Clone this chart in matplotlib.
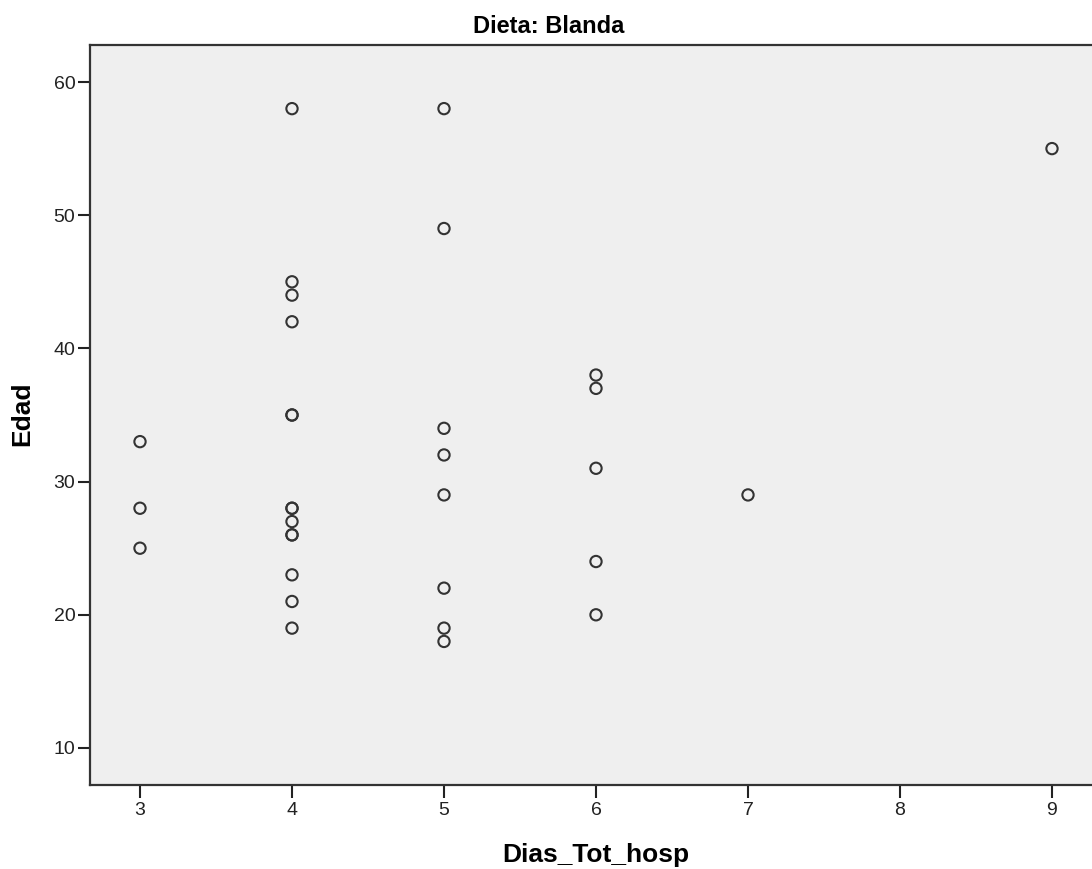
import matplotlib
matplotlib.use("Agg")
import matplotlib.pyplot as plt

plt.rcParams['font.family'] = ['Liberation Sans', 'DejaVu Sans']

dias = [3, 3, 3,
        4, 4, 4, 4, 4, 4, 4, 4, 4, 4, 4, 4, 4, 4,
        5, 5, 5, 5, 5, 5, 5, 5,
        6, 6, 6, 6, 6,
        7, 9]
edad = [33, 28, 25,
        58, 45, 44, 42, 35, 35, 28, 28, 27, 26, 26, 23, 21, 19,
        58, 49, 34, 32, 29, 22, 19, 18,
        38, 37, 31, 24, 20,
        29, 55]
xticks = [3, 4, 5, 6, 7, 8, 9]
yticks = [10, 20, 30, 40, 50, 60]

W, H = 1092, 869
fig = plt.figure(figsize=(W / 100, H / 100), dpi=100)
ax = fig.add_axes([90 / W, (H - 785) / H, (W - 90) / W, (785 - 45) / H])
ax.set_facecolor('#EFEFEF')
ax.scatter(dias, edad, s=66, facecolors='none', edgecolors='#333333', linewidths=1.5, zorder=3)

ax.set_xlim(3 - 50 / 152, 3 + (W - 90 - 50) / 152)
ax.set_ylim(10 - 37 / 13.32, 60 + 37 / 13.32)
ax.set_xticks(xticks)
ax.set_yticks(yticks)
ax.tick_params(axis='both', direction='out', length=9, width=1.5, colors='#222222', labelsize=14)
ax.tick_params(axis='x', pad=3)
ax.tick_params(axis='y', pad=1.5)
for s in ['left', 'bottom', 'top']:
    ax.spines[s].set_linewidth(1.6)
    ax.spines[s].set_color('#333333')
ax.spines['right'].set_visible(False)

fig.text(549 / W, 1 - 33 / H, 'Dieta: Blanda', fontsize=17, fontweight='bold',
         ha='center', va='baseline')
fig.text(596 / W, 1 - 862 / H, 'Dias_Tot_hosp', fontsize=19, fontweight='bold',
         ha='center', va='baseline')
fig.text(22 / W, 1 - 414 / H, 'Edad', fontsize=19, fontweight='bold',
         ha='center', va='center', rotation=90)

fig.savefig('out.png', dpi=100)
